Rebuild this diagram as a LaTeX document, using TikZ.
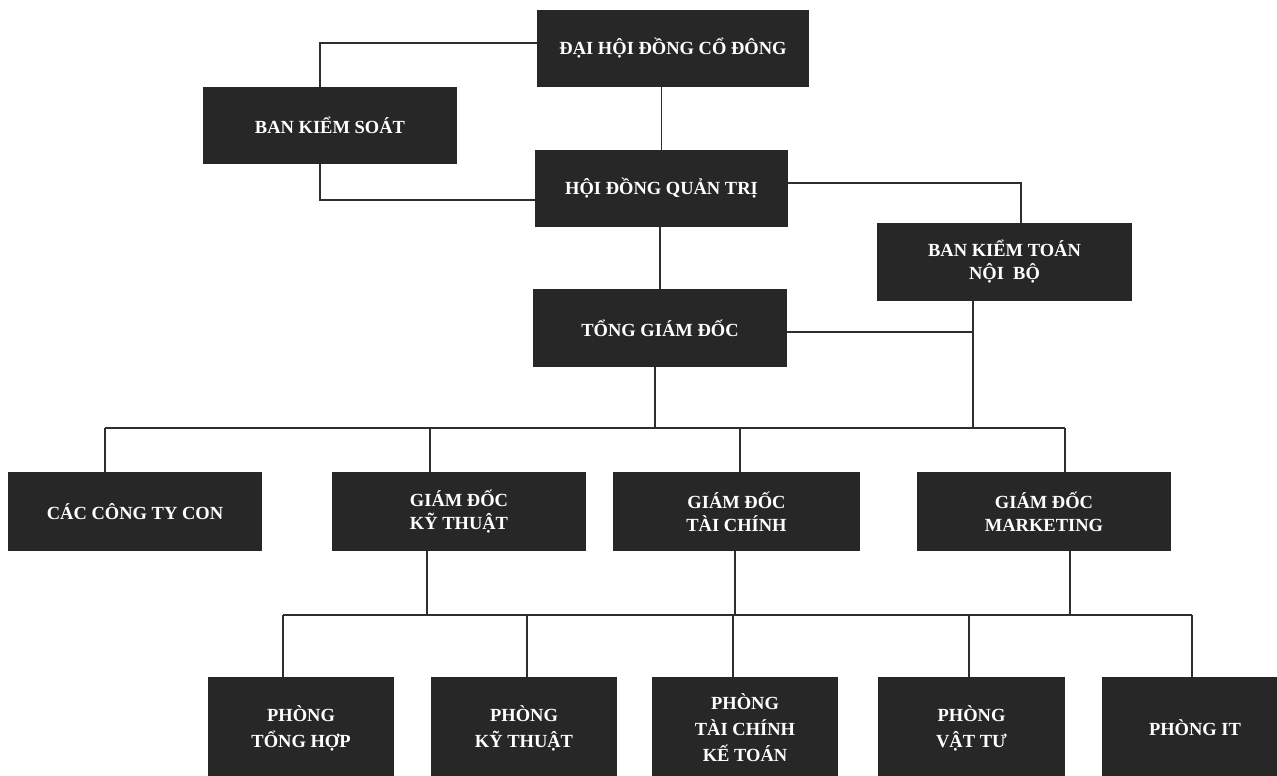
\documentclass[tikz,border=0pt]{standalone}
\usepackage{fontspec}
\setmainfont{Liberation Serif}
\usepackage{xcolor}
\usetikzlibrary{positioning,calc}
\definecolor{boxgray}{HTML}{272727}
\definecolor{linegray}{HTML}{2E2E2E}

\begin{document}
\begin{tikzpicture}[x=1pt, y=-1pt,
    box/.style={fill=boxgray, text=white, align=center, inner sep=2pt,
      minimum width=254pt, minimum height=78pt,
      font=\bfseries\fontsize{18.5}{23}\selectfont},
    dept/.style={box, minimum width=186pt, minimum height=102pt,
      font=\bfseries\fontsize{18.5}{26}\selectfont},
    link/.style={line width=1.8pt, draw=linegray}]

    % Page
    \path[use as bounding box, fill=white] (0,0) rectangle (1277,776);
    \clip (0,0) rectangle (1277,776);

    % Top levels
    \node[box, minimum width=272pt, minimum height=77pt] (dhdcd) at (673,48.5) {ĐẠI HỘI ĐỒNG CỔ ĐÔNG};
    \node[box, minimum height=77pt] (bks) at (330,125.5) {BAN KIỂM SOÁT};
    \node[box, minimum width=253pt, minimum height=77pt] (hdqt) at (661.5,188.5) {HỘI ĐỒNG QUẢN TRỊ};
    \node[box, minimum width=255pt] (bktnb) at (1004.5,262) {BAN KIỂM TOÁN\\NỘI\enspace BỘ};
    \node[box] (tgd) at (660,328) {TỔNG GIÁM ĐỐC};

    % Directors
    \node[box, minimum height=79pt] (ctycon) at (135,511.5) {CÁC CÔNG TY CON};
    \node[box, minimum height=79pt] (gdkt) at (459,511.5) {GIÁM ĐỐC\\KỸ THUẬT};
    \node[box, minimum width=247pt, minimum height=79pt] (gdtc) at (736.5,511.5) {GIÁM ĐỐC\\TÀI CHÍNH};
    \node[box, minimum height=79pt] (gdmkt) at (1044,511.5) {GIÁM ĐỐC\\MARKETING};

    % Departments
    \node[dept] (pth) at (301,728) {PHÒNG\\TỔNG HỢP};
    \node[dept] (pkt) at (524,728) {PHÒNG\\KỸ THUẬT};
    \node[dept] (ptckt) at (745,728) {PHÒNG\\TÀI CHÍNH\\KẾ TOÁN};
    \node[dept, minimum width=187pt] (pvt) at (971.5,728) {PHÒNG\\VẬT TƯ};
    \node[dept] (pit) at (1195,728) {PHÒNG IT};

    % Board links
    \draw[link] ([yshift=5.5pt]dhdcd.west) -| ([xshift=-10pt]bks.north);
    \draw[link] ([xshift=-10pt]bks.south) |- ([yshift=-11.5pt]hdqt.west);
    \draw[link] (hdqt.north |- dhdcd.south) -- (hdqt.north);
    \draw[link] ([yshift=5.5pt]hdqt.east) -| ([xshift=16.5pt]bktnb.north);
    \draw[link] (tgd.north |- hdqt.south) -- (tgd.north);

    % Bus lines
    \coordinate (bus1) at (0,428);
    \coordinate (bus2) at (0,615);
    \coordinate (kt) at ([xshift=-31.5pt]bktnb.south);
    \coordinate (tgdR) at ([yshift=-4pt]tgd.east);
    \coordinate (tgdB) at ([xshift=-5pt]tgd.south);
    \draw[link] (tgdR) -- (tgdR -| kt);
    \draw[link] (kt) -- (kt |- bus1);
    \draw[link] (tgdB) -- (tgdB |- bus1);

    % Directors to bus 1
    \foreach \n/\dx in {ctycon/-30, gdkt/-29, gdtc/3.5, gdmkt/21} {
        \coordinate (top\n) at ([xshift=\dx pt]\n.north);
        \draw[link] (top\n) -- (top\n |- bus1);
    }
    \draw[link] (topctycon |- bus1) -- (topgdmkt |- bus1);

    % Directors to bus 2
    \foreach \n/\dx in {gdkt/-32, gdtc/-1.5, gdmkt/26} {
        \coordinate (bot\n) at ([xshift=\dx pt]\n.south);
        \draw[link] (bot\n) -- (bot\n |- bus2);
    }

    % Departments to bus 2
    \foreach \n/\dx in {pth/-18, pkt/3, ptckt/-12, pvt/-2.5, pit/-3} {
        \coordinate (top\n) at ([xshift=\dx pt]\n.north);
        \draw[link] (top\n) -- (top\n |- bus2);
    }
    \draw[link] (toppth |- bus2) -- (toppit |- bus2);
\end{tikzpicture}
\end{document}
